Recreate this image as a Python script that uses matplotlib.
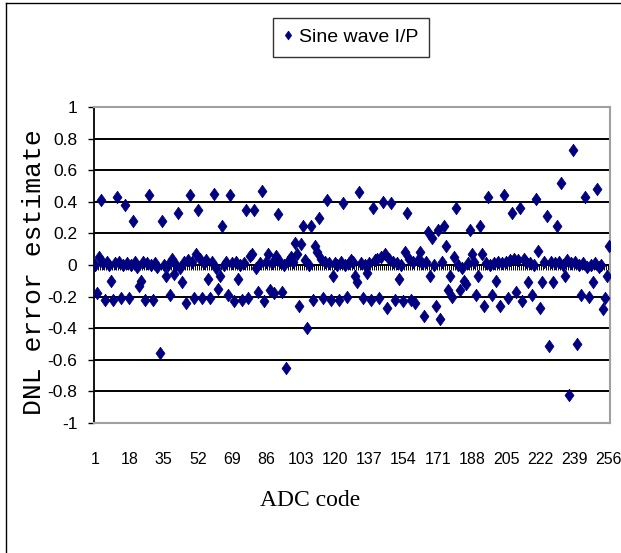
import numpy as np
import matplotlib
matplotlib.use("Agg")
import matplotlib.pyplot as plt
from matplotlib.lines import Line2D

# DNL error estimate per ADC code
codes = np.arange(1, 257)
dnl = [
    0.00, -0.18, 0.05, 0.41, 0.01, -0.22, 0.02, 0.00, -0.10, -0.22, 0.01, 0.43, 0.02, -0.21, 0.00, 0.38,
    0.01, -0.21, 0.00, 0.28, 0.02, -0.01, -0.13, -0.10, 0.02, -0.22, 0.01, 0.44, 0.00, -0.22, 0.01, -0.01,
    -0.56, 0.28, 0.00, -0.07, 0.00, -0.19, 0.04, -0.06, 0.00, 0.33, -0.02, -0.11, 0.02, -0.24, 0.03, 0.44,
    0.02, -0.21, 0.07, 0.35, 0.04, -0.21, 0.01, 0.03, -0.09, -0.21, 0.02, 0.45, -0.02, -0.15, -0.07, 0.25,
    0.00, 0.02, -0.19, 0.44, 0.01, -0.23, 0.02, -0.09, 0.00, -0.22, 0.01, 0.35, -0.21, 0.06, 0.07, 0.35,
    -0.02, -0.17, 0.01, 0.47, -0.23, 0.02, 0.07, -0.16, 0.01, -0.18, 0.06, 0.32, 0.02, -0.17, 0.00, -0.65,
    0.03, 0.05, 0.02, 0.14, 0.07, -0.26, 0.13, 0.25, 0.03, -0.40, 0.00, 0.25, -0.22, 0.12, 0.08, 0.30,
    0.04, -0.21, 0.02, 0.41, 0.01, -0.22, -0.07, 0.01, 0.00, -0.22, 0.02, 0.39, 0.00, -0.20, 0.01, 0.03,
    0.02, -0.07, -0.11, 0.46, 0.01, -0.21, 0.00, -0.05, 0.01, -0.22, 0.36, 0.03, 0.04, -0.21, 0.05, 0.40,
    0.07, -0.27, 0.04, 0.39, 0.02, -0.22, 0.01, -0.09, 0.00, -0.23, 0.08, 0.33, 0.04, -0.22, 0.02, -0.24,
    0.03, 0.08, 0.01, -0.32, 0.02, 0.21, -0.07, 0.17, 0.00, -0.26, 0.22, -0.34, 0.02, 0.25, 0.12, -0.16,
    -0.07, -0.20, 0.05, 0.36, 0.00, -0.16, -0.02, -0.10, -0.12, 0.01, 0.22, 0.07, 0.02, -0.19, -0.07, 0.25,
    0.07, -0.26, 0.01, 0.43, 0.00, -0.19, 0.01, -0.10, 0.02, -0.26, 0.01, 0.44, 0.02, -0.21, 0.03, 0.33,
    0.04, -0.17, 0.03, 0.36, -0.23, 0.04, 0.02, -0.11, 0.01, -0.19, 0.00, 0.42, 0.09, -0.27, -0.11, 0.02,
    0.31, -0.51, 0.02, -0.11, 0.01, 0.25, 0.02, 0.52, 0.00, -0.07, 0.03, -0.82, 0.01, 0.73, 0.02, -0.50,
    0.00, -0.19, 0.01, 0.43, -0.01, -0.20, 0.00, -0.11, 0.01, 0.48, -0.01, 0.00, -0.28, -0.21, -0.07, 0.12,
]
x_ticks = np.arange(1, 257, 17)
y_ticks = [-1, -0.8, -0.6, -0.4, -0.2, 0, 0.2, 0.4, 0.6, 0.8, 1]
y_tick_labels = ["-1", "-0.8", "-0.6", "-0.4", "-0.2", "0", "0.2", "0.4", "0.6", "0.8", "1"]

narrow = ["Liberation Sans", "DejaVu Sans"]
navy = "#000080"
W, H = 621, 553

fig = plt.figure(figsize=(W / 100, H / 100), dpi=100)

# outer chart frame (only left and top visible)
fig.add_artist(Line2D([5.5 / W, 5.5 / W], [0, 1 - 3 / H], color="black", lw=1))
fig.add_artist(Line2D([5.5 / W, 1], [1 - 3 / H, 1 - 3 / H], color="black", lw=1))

ax = fig.add_axes([94 / W, 1 - 423 / H, 516 / W, 316 / H])

diamond = [(0, 1), (0.72, 0), (0, -1), (-0.72, 0), (0, 1)]
ax.plot(codes, dnl, ls="none", marker=diamond, ms=9, color=navy, mec=navy,
        mew=0.5, label="Sine wave I/P", zorder=5)

ax.set_xlim(0.5, 256.5)
ax.set_ylim(-1, 1)
ax.set_yticks(y_ticks)
ax.set_yticklabels(y_tick_labels, family=narrow, fontsize=12.5)
ax.set_xticks(x_ticks)
ax.set_xticklabels([str(v) for v in x_ticks], family=narrow, fontsize=11.5)
ax.tick_params(axis="y", length=4, width=1, pad=8, direction="out")
ax.tick_params(axis="x", length=0, pad=21)

ax.yaxis.grid(True, color="black", lw=1.4)
ax.set_axisbelow(True)

# category axis crossing at zero with a tick per code
ax.axhline(0, color="black", lw=1.4, zorder=2)
ax.vlines(np.arange(0.5, 257, 1), -0.032, 0, color="black", lw=0.7, zorder=2)

for s in ["top", "right", "bottom"]:
    ax.spines[s].set_color("#a0a0a0")
    ax.spines[s].set_linewidth(1.5)
ax.spines["left"].set_color("black")
ax.spines["left"].set_linewidth(1.3)

fig.text(34 / W, 1 - 272 / H, "DNL error estimate", rotation=90, ha="center",
         va="center", family=["Liberation Mono", "DejaVu Sans Mono"], fontsize=19)
fig.text(310 / W, 1 - 500 / H, "ADC code", ha="center", va="center",
         family=["Liberation Serif", "DejaVu Serif"], fontsize=17)

leg = ax.legend(loc="center", bbox_to_anchor=(351 / W, 1 - 37 / H),
                bbox_transform=fig.transFigure, frameon=True, fancybox=False,
                edgecolor="black", handlelength=0.5, handletextpad=0.3,
                borderpad=0.55, markerscale=0.7, prop={"family": narrow, "size": 14})
leg.get_frame().set_linewidth(1.0)

fig.savefig("out.png", dpi=100, facecolor="white")
